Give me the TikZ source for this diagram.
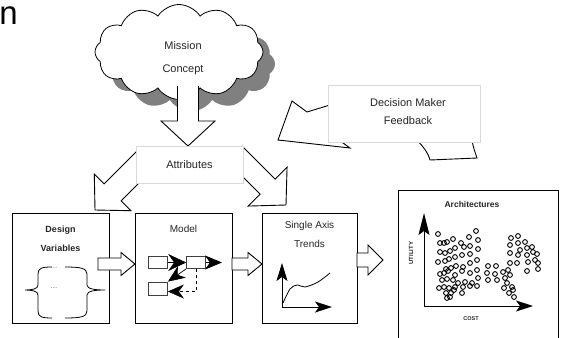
\documentclass[tikz,border=0pt]{standalone}
\usepackage{fontspec}
\setmainfont{Liberation Sans}
\usetikzlibrary{calc,arrows.meta,shapes.symbols,shadows}

\newcommand{\blockarrow}[6]{%
  \filldraw[fill=white,line join=miter]
    ($(#1)!#3!90:(#2)$) -- ($(#2)!#5!(#1)!#3!90:(#2)$)
    -- ($(#2)!#5!(#1)!#4!90:(#2)$) -- (#2)
    -- ($(#2)!#5!(#1)!#4!-90:(#2)$) -- ($(#2)!#5!(#1)!#3!-90:(#2)$)
    -- ($(#1)!#3!-90:(#2)$) #6;}

\tikzset{
  box/.style={draw,fill=white,line width=0.9pt,inner sep=0pt},
  softbox/.style={draw=black!15,fill=white,line width=0.9pt,inner sep=0pt},
  unit/.style={draw=black!75,fill=white,line width=0.7pt,minimum width=19pt,minimum height=12pt,inner sep=0pt},
  txt/.style={align=center,text=black!85,inner sep=0pt},
  dots/.style={text=black!55,inner sep=0pt,anchor=base,font=\fontsize{8}{8}\selectfont},
  axis/.style={line width=1pt,-{Stealth[length=#1,width=11pt,inset=4pt]}},
  ring/.style={line width=0.9pt},
  modtip/.style={-{Stealth[length=#1,width=14pt,inset=5pt]}}
}

\begin{document}
\begin{tikzpicture}[x=1pt,y=-1pt,line width=0.9pt]
\useasboundingbox (0,0) rectangle (561,337);
\clip (0,0) rectangle (561,337);
\node[anchor=base west,inner sep=0pt,font=\fontsize{33}{33}\selectfont] (head) at (-1,25) {n};

\node[cloud,cloud puffs=12,cloud puff arc=115,cloud ignores aspect,minimum width=168pt,minimum height=95pt,
  draw,fill=white,line width=0.8pt,copy shadow={shadow xshift=12pt,shadow yshift=-12pt,fill=black!50,draw=none}] (concept) at (179,52) {};
\node[txt,font=\fontsize{11}{23}\selectfont] (concepttext) at (183,58) {Mission\\Concept};
\coordinate (c0) at (188,86);
\coordinate (c1) at (188,146);
\blockarrow{c0}{c1}{10.5pt}{27pt}{25pt}{}

\coordinate (a0) at (147,158);
\coordinate (a1) at (95,210);
\blockarrow{a0}{a1}{12pt}{26pt}{25pt}{}
\coordinate (b0) at (234.5,153.5);
\coordinate (b1) at (286,205);
\blockarrow{b0}{b1}{10.6pt}{27.5pt}{26pt}{}
\node[softbox,txt,minimum width=107pt,minimum height=37pt,font=\fontsize{11}{13}\selectfont] (attr) at (189.5,164.5) {Attributes};

\filldraw[fill=white,line join=miter] (477,158) .. controls (475,152) and (473,147) .. (472,140) -- (470,100) -- (330,105)
  -- (307,112) -- (292,101) -- (278,140) -- (350,148) -- (343,143) -- (360,138) -- (412,135)
  .. controls (422,145) and (428,152) .. (430,160) -- cycle;
\node[softbox,minimum width=152pt,minimum height=57pt] (dmf) at (404,113.5) {};
\node[txt,font=\fontsize{11}{18}\selectfont] (dmftext) at (408,112) {Decision Maker\\Feedback};

\node[box,minimum width=97pt,minimum height=110pt] (design) at (60.5,268) {};
\node[box,minimum width=97pt,minimum height=110pt] (model) at (183.5,268) {};
\node[box,minimum width=95pt,minimum height=110pt] (trends) at (309.5,268) {};
\node[box,minimum width=160pt,minimum height=155pt] (archs) at (478,267.5) {};

\node[txt,font=\bfseries\fontsize{9}{19}\selectfont] (designtext) at (60.5,238.5) {Design\\Variables};
\node[txt,font=\fontsize{10}{12}\selectfont] (modeltext) at (183.5,229) {Model};
\node[txt,font=\fontsize{10}{19}\selectfont] (trendstext) at (309.5,234.5) {Single Axis\\Trends};
\node[txt,font=\bfseries\fontsize{8.5}{10}\selectfont] (archtext) at (472,204) {Architectures};

\coordinate (d0) at (98,264);
\coordinate (d1) at (135,264);
\blockarrow{d0}{d1}{6pt}{11.5pt}{14pt}{-- cycle}
\coordinate (m0) at (232,264);
\coordinate (m1) at (262,264);
\blockarrow{m0}{m1}{6pt}{11.5pt}{14pt}{-- cycle}
\coordinate (t0) at (357,260);
\coordinate (t1) at (383,260);
\blockarrow{t0}{t1}{7pt}{15pt}{15pt}{-- cycle}

\draw[line width=0.8pt] (52,267) .. controls (42,267) and (38,268) .. (38,274) -- (38,285)
  .. controls (38,289) and (32,290) .. (25,290) .. controls (32,290) and (38,291) .. (38,295) -- (38,311)
  .. controls (38,317) and (42,318) .. (52,318);
\draw[line width=0.8pt] (65,267) .. controls (80,267) and (87,268) .. (87,274) -- (87,285)
  .. controls (87,289) and (95,290) .. (105,290) .. controls (95,290) and (87,291) .. (87,295) -- (87,311)
  .. controls (87,317) and (80,318) .. (65,318);
\node[dots] (dots1) at (54,268) {...};
\node[dots] (dots2) at (54,288) {...};

\node[unit] (u1) at (158,262.5) {};
\node[unit] (u2) at (196,262.5) {};
\node[unit,minimum height=13pt] (u3) at (158,288.5) {};
\coordinate (uout) at (222,262.5);
\draw[line width=0.7pt,-{Stealth[length=18pt,width=17pt,inset=6pt]}] (u1) -- (u2);
\draw[line width=0.7pt,modtip=17pt] (u2) -- (uout);
\draw[line width=0.7pt,modtip=17pt] (u2.south west) -- (u3.north east);
\draw[dashed,line width=0.7pt,modtip=16pt] (u2.south) |- ([yshift=-3pt]u3.east);

\coordinate (o1) at (282,307);
\coordinate (o1y) at (282,263);
\coordinate (o1x) at (332,307);
\draw[axis=18pt] (o1) -- (o1y);
\draw[axis=17pt] (o1) -- (o1x);
\draw[line width=0.8pt] plot[smooth] coordinates {(283,303) (290,289) (297,285) (305,287) (318,282) (330,273)};

\coordinate (o2) at (424,306);
\coordinate (o2y) at (424,213);
\coordinate (o2x) at (533,306);
\draw[axis=22pt] (o2) -- (o2y);
\draw[axis=17pt] (o2) -- (o2x);
\node[txt,rotate=90,font=\bfseries\fontsize{6}{6}\selectfont] (utext) at (411,253) {UTILITY};
\node[txt,font=\bfseries\fontsize{5.5}{6}\selectfont] (ctext) at (471,319) {COST};
\foreach \px/\py in {438/234,440/243,444/243,447/242,453/239,461/243,469/237,476/231,478/240,
  440/252,445/253,450/251,455/248,464/247,470/246,478/249,438/262,445/261,449/259,455/257,462/255,
  470/254,477/260,446/269,451/268,456/266,463/267,470/263,477/270,440/274,444/273,448/271,455/275,
  462/271,470/273,478/278,442/280,447/279,453/280,458/283,465/282,472/283,477/286,439/288,444/287,
  449/288,455/287,463/287,470/286,446/293,451/293,454/290,462/293,447/298,450/297,
  488/266,496/266,487/273,495/274,503/272,508/270,488/280,497/280,505/278,510/275,507/283,512/287,
  504/288,513/290,509/293,514/297,
  511/238,518/236,510/245,518/243,525/242,520/250,527/248,532/247,510/253,518/255,527/255,533/252,
  537/254,528/262,535/260,538/263,517/263,527/271,538/269,510/263}
  \draw[ring] (\px,\py) circle (2.4pt);
\end{tikzpicture}
\end{document}
